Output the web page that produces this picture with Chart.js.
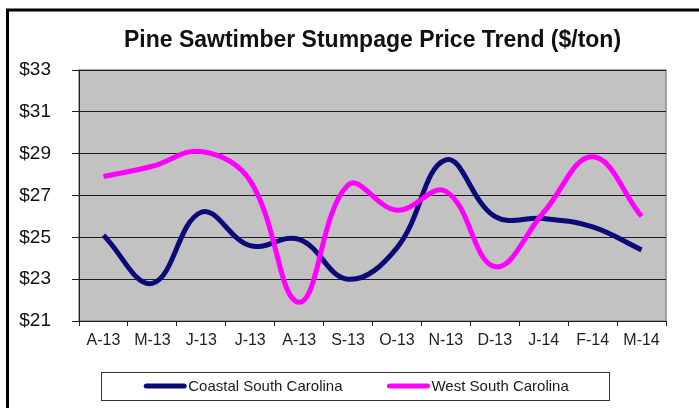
<!DOCTYPE html>
<html>
<head>
<meta charset="utf-8">
<script src="https://cdn.jsdelivr.net/npm/chart.js@4/dist/chart.umd.min.js"></script>
<style>
  html, body { margin: 0; padding: 0; background: #fff; }
  #wrap { width: 699px; height: 408px; position: relative; }
</style>
</head>
<body>
<div id="wrap"><canvas id="trend"></canvas></div>
<script>
"use strict";
const months = ["A-13", "M-13", "J-13", "J-13", "A-13", "S-13", "O-13", "N-13", "D-13", "J-14", "F-14", "M-14"];
const coastal = [25.1, 22.8, 26.2, 24.6, 24.9, 23.0, 24.5, 28.7, 26.0, 25.9, 25.5, 24.4];
const west = [27.9, 28.4, 29.1, 27.7, 21.9, 27.5, 26.3, 27.2, 23.6, 26.2, 28.85, 26.0];
const yTicks = [21, 23, 25, 27, 29, 31, 33];

const FONT = "Arial, 'Liberation Sans', sans-serif";

// gray plot background, frame, outer border and the boxed legend
const decor = {
    id: "decor",
    beforeDraw(chart) {
        const { ctx, chartArea: a } = chart;
        ctx.save();
        ctx.fillStyle = "#c2c2c2";
        ctx.fillRect(a.left, a.top, a.right - a.left, a.bottom - a.top);
        ctx.strokeStyle = "#8a8a8a";
        ctx.lineWidth = 1.5;
        ctx.strokeRect(a.left, a.top, a.right - a.left, a.bottom - a.top);
        // outer border (left and top visible)
        ctx.strokeStyle = "#000";
        ctx.lineWidth = 3;
        ctx.beginPath();
        ctx.moveTo(7.5, 420);
        ctx.lineTo(7.5, 10);
        ctx.lineTo(720, 10);
        ctx.stroke();
        ctx.restore();
    },
    afterDraw(chart) {
        const { ctx } = chart;
        const sets = chart.data.datasets;
        ctx.save();
        ctx.font = "15px " + FONT;
        const lineW = 42, gap = 2, itemGap = 45;
        const widths = sets.map(d => lineW + gap + ctx.measureText(d.label).width);
        const total = widths.reduce((s, w) => s + w, 0) + itemGap * (sets.length - 1);
        const box = { l: 101.5, t: 372.5, r: 609.5, b: 400.5 };
        ctx.strokeStyle = "#333";
        ctx.lineWidth = 1;
        ctx.strokeRect(box.l, box.t, box.r - box.l, box.b - box.t);
        const cy = 386;
        let x = (box.l + box.r) / 2 - total / 2 + 1;
        sets.forEach((d, i) => {
            ctx.strokeStyle = d.borderColor;
            ctx.lineWidth = 5;
            ctx.lineCap = "round";
            ctx.beginPath();
            ctx.moveTo(x + 2, cy);
            ctx.lineTo(x + lineW - 2, cy);
            ctx.stroke();
            ctx.fillStyle = "#1a1a1a";
            ctx.textBaseline = "middle";
            ctx.fillText(d.label, x + lineW + gap, cy + 1);
            x += widths[i] + itemGap;
        });
        ctx.restore();
    }
};

new Chart(document.getElementById("trend"), {
    type: "line",
    data: {
        labels: months,
        datasets: [
            {
                label: "Coastal South Carolina",
                data: coastal,
                borderColor: "#0a0a78",
                borderWidth: 5,
                tension: 0.4,
                pointRadius: 0,
                order: 2
            },
            {
                label: "West South Carolina",
                data: west,
                borderColor: "#ff00ff",
                borderWidth: 5,
                tension: 0.4,
                pointRadius: 0,
                order: 1
            }
        ]
    },
    options: {
        responsive: true,
        maintainAspectRatio: false,
        animation: false,
        devicePixelRatio: 1,
        layout: { padding: { left: 12, right: 33, top: 0, bottom: 57 } },
        plugins: {
            legend: { display: false },
            tooltip: { enabled: false },
            title: {
                display: true,
                fullSize: false,
                text: "Pine Sawtimber Stumpage Price Trend ($/ton)",
                color: "#111",
                font: { family: FONT, size: 23, weight: "bold", lineHeight: 1.2 },
                padding: { top: 27, bottom: 15.4 }
            }
        },
        scales: {
            x: {
                offset: true,
                afterFit: s => { s.height = 30; },
                grid: {
                    offset: true,
                    drawOnChartArea: false,
                    drawTicks: true,
                    tickLength: 5,
                    color: "#222"
                },
                border: { color: "#222", width: 1 },
                ticks: {
                    color: "#222",
                    padding: 5,
                    maxRotation: 0,
                    autoSkip: false,
                    font: { family: FONT, size: 16 }
                }
            },
            y: {
                min: yTicks[0],
                max: yTicks[yTicks.length - 1],
                afterFit: s => { s.width = 67; },
                afterBuildTicks: s => { s.ticks = yTicks.map(v => ({ value: v })); },
                grid: {
                    color: "#1e1e1e",
                    lineWidth: 1,
                    tickLength: 7
                },
                border: { color: "#222", width: 1 },
                ticks: {
                    color: "#111",
                    padding: 21,
                    font: { family: FONT, size: 19 },
                    callback: v => "$" + v
                }
            }
        }
    },
    plugins: [decor]
});
</script>
</body>
</html>
